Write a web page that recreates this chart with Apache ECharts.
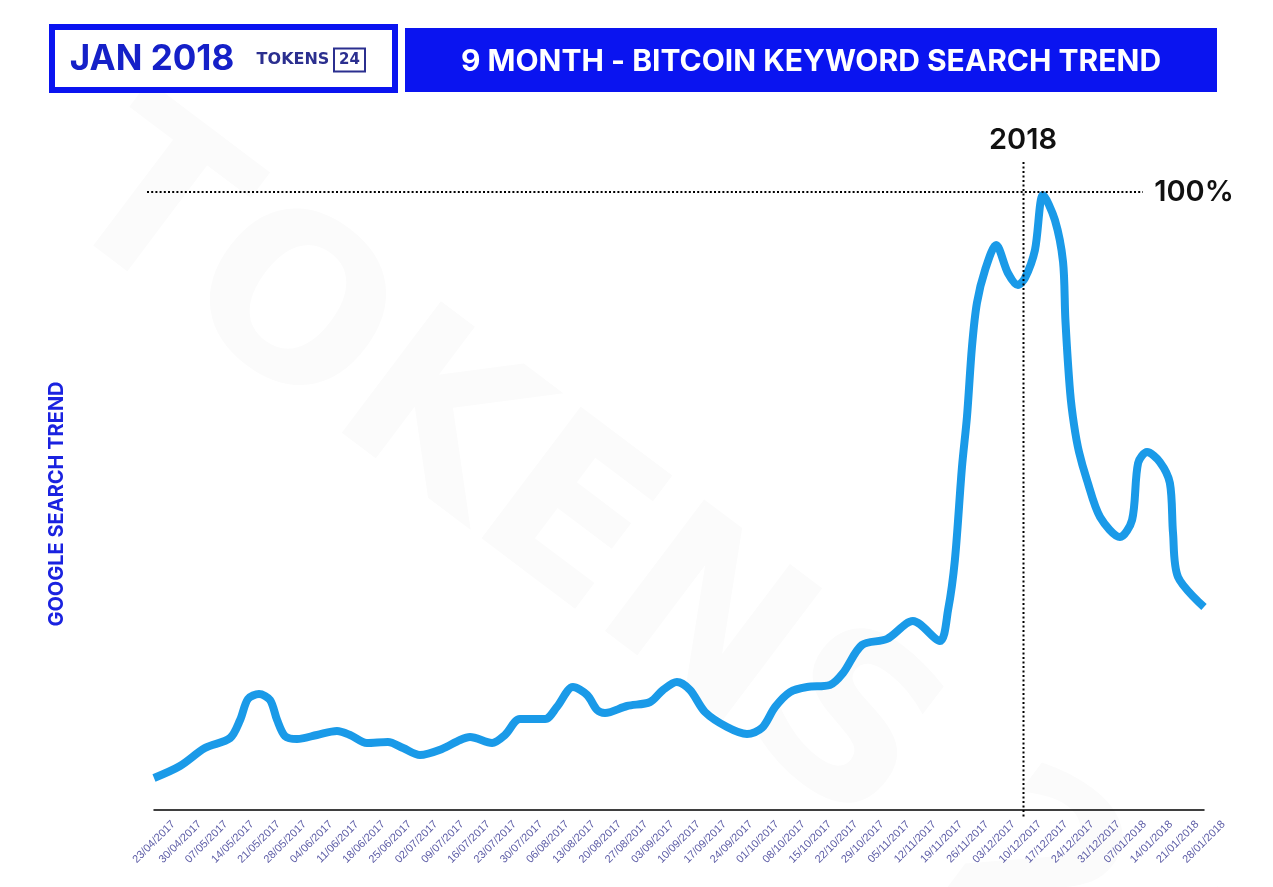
<!DOCTYPE html>
<html>
<head>
<meta charset="utf-8">
<title>9 Month - Bitcoin Keyword Search Trend</title>
<script src="https://cdn.jsdelivr.net/npm/echarts@6/dist/echarts.min.js"></script>
<style>
    html, body { margin: 0; padding: 0; background: #fff; }
    #main { width: 1273px; height: 887px; }
</style>
</head>
<body>
<div id="main"></div>
<script type="text/javascript">
    // weekly tick labels, as printed under the axis
    var weeks = ['23/04/2017','30/04/2017','07/05/2017','14/05/2017','21/05/2017','28/05/2017','04/06/2017','11/06/2017','18/06/2017','25/06/2017',
        '02/07/2017','09/07/2017','16/07/2017','23/07/2017','30/07/2017','06/08/2017','13/08/2017','20/08/2017','27/08/2017','03/09/2017',
        '10/09/2017','17/09/2017','24/09/2017','01/10/2017','08/10/2017','15/10/2017','22/10/2017','29/10/2017','05/11/2017','12/11/2017',
        '19/11/2017','26/11/2017','03/12/2017','10/12/2017','17/12/2017','24/12/2017','31/12/2017','07/01/2018','14/01/2018','21/01/2018','28/01/2018'];

    // curve: position in weeks since the first tick ...
    var weekPos = [0,0.99,1.94,2.90,3.28,3.58,4.00,4.42,4.69,4.99,5.45,6.21,6.97,7.47,8.11,8.91,9.49,10.13,10.97,11.66,
        12.04,12.88,13.37,13.94,14.90,15.35,15.96,16.50,16.88,17.18,18.02,18.90,19.39,19.92,20.42,20.99,21.83,22.59,23.16,23.66,
        24.23,24.88,25.75,26.25,26.97,27.92,28.91,29.94,30.25,30.51,30.78,30.97,31.16,31.35,31.66,32.08,32.53,32.91,33.18,33.56,
        33.87,34.32,34.63,34.72,34.90,35.05,35.24,35.54,36.04,36.80,37.26,37.49,37.83,38.32,38.70,38.82,39.01,40];

    // ... and search interest there, % of the peak
    var trend = [5.18,7.12,10.03,11.65,14.56,17.96,18.77,17.80,14.56,11.97,11.49,12.14,12.78,12.14,10.84,11.0,10.03,8.90,9.87,11.33,
        11.81,10.84,12.14,14.72,14.72,16.67,19.90,18.61,16.18,15.70,16.83,17.48,19.42,20.71,19.42,15.86,13.43,12.30,13.27,16.67,
        19.09,19.90,20.23,22.17,26.70,27.67,30.58,27.35,32.36,40.45,55.50,63.59,74.92,82.04,87.38,91.42,86.89,84.95,86.08,90.61,
        99.51,95.47,88.7,79.3,67.6,62.3,57.9,53.40,47.41,44.17,46.93,56.15,57.93,56.31,52.91,44.82,37.70,32.85];

    var blue = '#0a14f0';
    var myChart = echarts.init(document.getElementById('main'));

    var points = [];
    for (var i = 0; i < weekPos.length; i++) {
        points.push([weekPos[i], trend[i]]);
    }

    option = {
        animation: false,
        backgroundColor: '#ffffff',
        grid: { left: 154, right: 69, top: 192, bottom: 77 },
        xAxis: {
            type: 'value',
            min: 0,
            max: 40,
            interval: 1,
            axisLine: { show: true, onZero: false, lineStyle: { color: '#000', width: 1.5 } },
            axisTick: { show: false },
            splitLine: { show: false },
            axisLabel: {
                rotate: 45,
                align: 'center',
                verticalAlign: 'middle',
                margin: 32,
                fontFamily: 'Liberation Sans',
                fontSize: 11,
                color: '#5c5ca6',
                showMinLabel: true,
                showMaxLabel: true,
                formatter: function (v) { return weeks[v]; }
            }
        },
        yAxis: {
            type: 'value',
            min: 0,
            max: 100,
            name: 'GOOGLE SEARCH TREND',
            nameLocation: 'middle',
            nameRotate: 90,
            nameGap: 87,
            nameTextStyle: { color: '#1a22e0', fontFamily: 'Inter', fontWeight: 'bold', fontSize: 20, padding: [0, 6, 0, 0] },
            axisLine: { show: false },
            axisTick: { show: false },
            axisLabel: { show: false },
            splitLine: { show: false }
        },
        graphic: [
            // watermark
            { type: 'text', x: 84, y: 165, rotation: -37 * Math.PI / 180, z: 0, silent: true,
              style: { text: 'TOKENS 24', font: 'bold 226px "DejaVu Sans"', fill: '#fbfbfb', textAlign: 'left', textVerticalAlign: 'middle' } },
            // header
            { type: 'rect', shape: { x: 52, y: 27, width: 343, height: 63 }, style: { fill: '#fff', stroke: blue, lineWidth: 6 } },
            { type: 'rect', shape: { x: 405, y: 28, width: 812, height: 64 }, style: { fill: blue } },
            { type: 'text', x: 152, y: 59, style: { text: 'JAN 2018', font: 'bold 35px Inter', fill: '#1520c8', textAlign: 'center', textVerticalAlign: 'middle' } },
            { type: 'text', x: 293, y: 60, style: { text: 'TOKENS', font: 'bold 16px "DejaVu Sans"', fill: '#2b2f8f', textAlign: 'center', textVerticalAlign: 'middle' } },
            { type: 'rect', shape: { x: 334, y: 48.5, width: 31, height: 23 }, style: { fill: 'none', stroke: '#2b2f8f', lineWidth: 2 } },
            { type: 'text', x: 349.5, y: 60, style: { text: '24', font: 'bold 15px "DejaVu Sans"', fill: '#2b2f8f', textAlign: 'center', textVerticalAlign: 'middle' } },
            { type: 'text', x: 811, y: 62, style: { text: '9 MONTH - BITCOIN KEYWORD SEARCH TREND', font: 'bold 30px Inter', fill: '#fff', textAlign: 'center', textVerticalAlign: 'middle' } },
            // guides
            { type: 'line', shape: { x1: 147, y1: 192, x2: 1143, y2: 192 }, z: 6, style: { stroke: '#000', lineWidth: 2, lineDash: [2, 2.2] } },
            { type: 'line', shape: { x1: 1023.5, y1: 162, x2: 1023.5, y2: 818 }, z: 6, style: { stroke: '#000', lineWidth: 2, lineDash: [2, 2.5] } },
            { type: 'text', x: 1023, y: 140, style: { text: '2018', font: '600 29px Inter', fill: '#111', textAlign: 'center', textVerticalAlign: 'middle' } },
            { type: 'text', x: 1194, y: 192, style: { text: '100%', font: '600 29px Inter', fill: '#111', textAlign: 'center', textVerticalAlign: 'middle' } }
        ],
        series: [{
            name: 'Bitcoin',
            type: 'line',
            z: 5,
            smooth: 0.3,
            smoothConstraint: false,
            symbol: 'none',
            data: points,
            lineStyle: { color: '#1a9ae8', width: 8 }
        }]
    };

    myChart.setOption(option);
</script>
</body>
</html>
